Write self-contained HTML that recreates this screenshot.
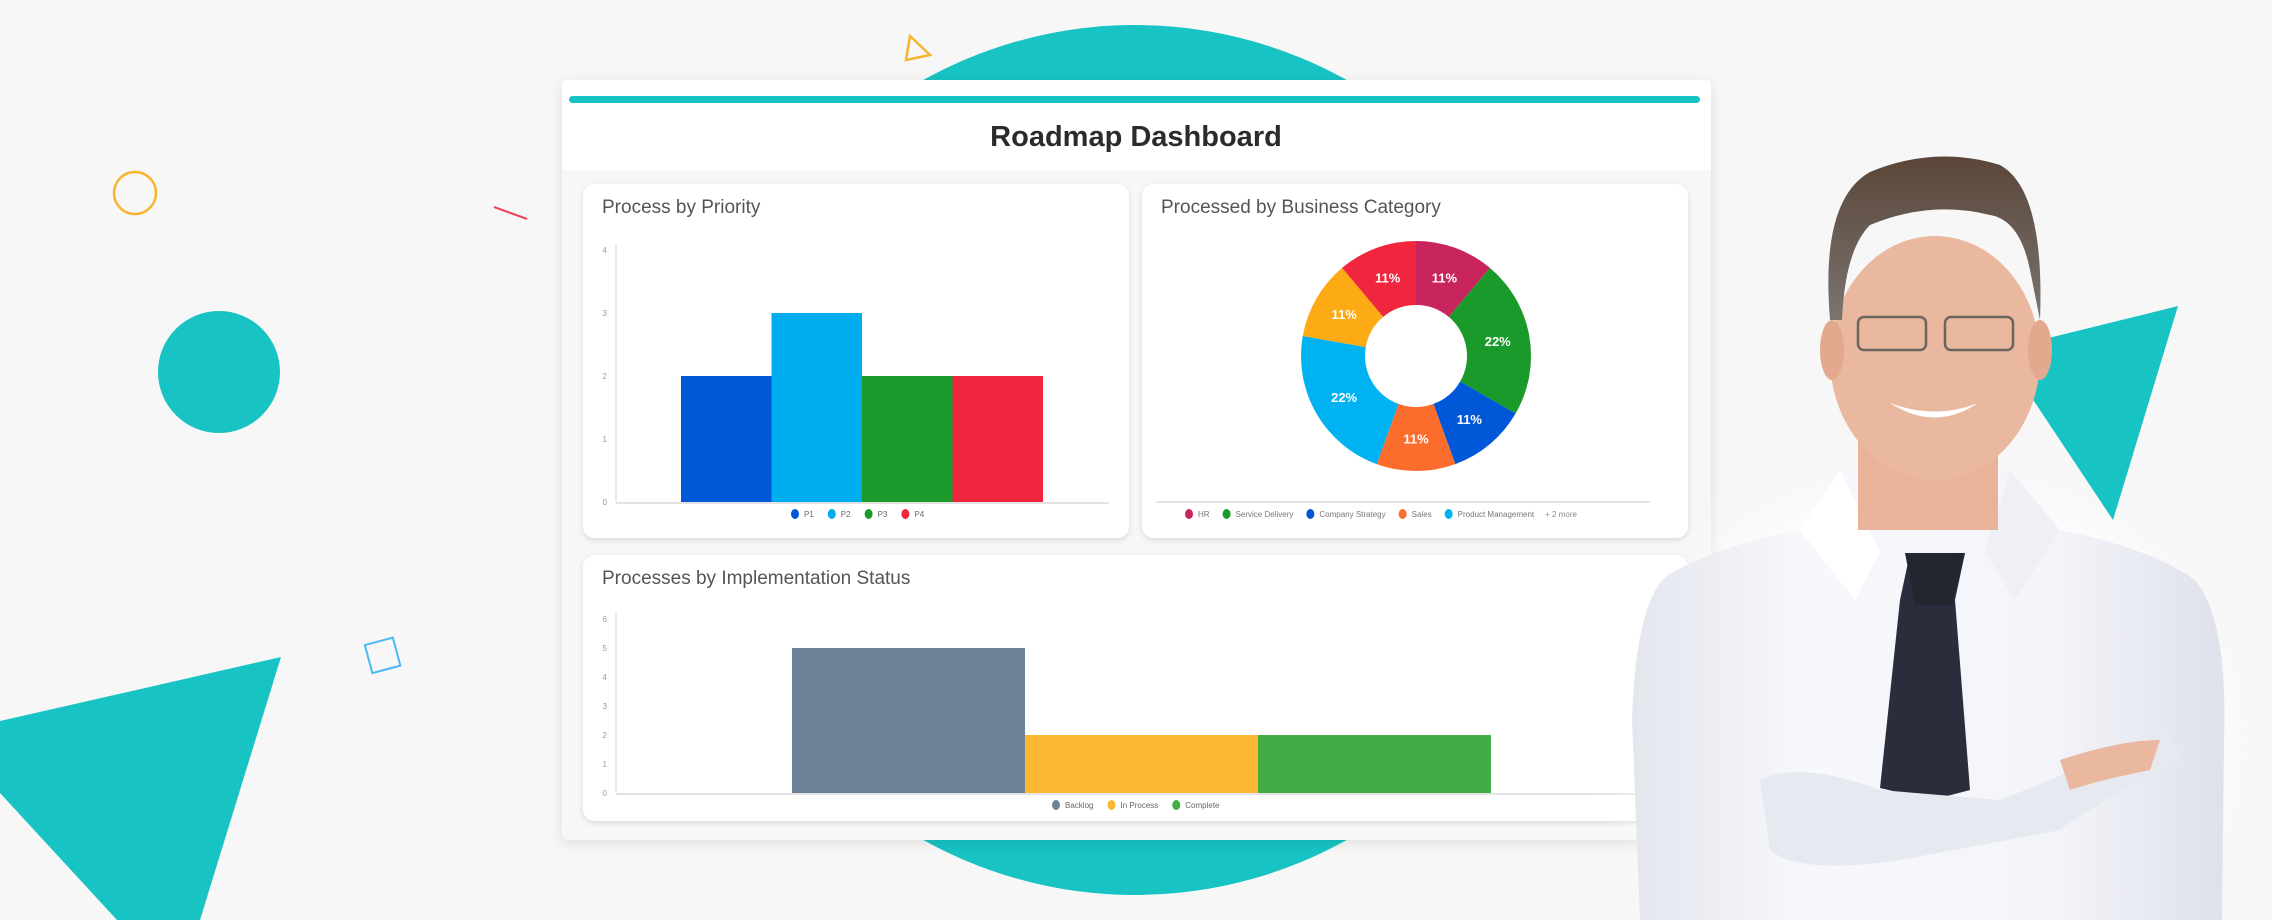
<!DOCTYPE html>
<html><head><meta charset="utf-8"><style>
html,body{margin:0;padding:0;background:#f7f7f7;width:2272px;height:920px;overflow:hidden;}
svg{display:block;font-family:"Liberation Sans",sans-serif;position:absolute;left:0;top:0;}
</style></head><body>
<svg id="root" width="2272" height="920" viewBox="0 0 2272 920">
<defs>
<filter id="sh" x="-10%" y="-10%" width="120%" height="130%"><feDropShadow dx="0" dy="3" stdDeviation="6" flood-color="#000" flood-opacity="0.10"/></filter>
<filter id="sh2" x="-10%" y="-10%" width="120%" height="130%"><feDropShadow dx="0" dy="2" stdDeviation="3" flood-color="#000" flood-opacity="0.12"/></filter>
<filter id="blur" x="-30%" y="-30%" width="160%" height="160%"><feGaussianBlur stdDeviation="25"/></filter>
<linearGradient id="shirt" x1="0" y1="0" x2="1" y2="0"><stop offset="0" stop-color="#e4e6ee"/><stop offset="0.3" stop-color="#f7f8fc"/><stop offset="0.7" stop-color="#f4f5fa"/><stop offset="1" stop-color="#dfe1ea"/></linearGradient>
<linearGradient id="hair" x1="0" y1="0" x2="0" y2="1"><stop offset="0" stop-color="#5a4638"/><stop offset="1" stop-color="#7a7470"/></linearGradient>
</defs>
<rect x="0" y="0" width="2272" height="920" fill="#f7f7f7"/>
<circle cx="1135" cy="460" r="435" fill="#17c3c3"/>
<circle cx="219" cy="372" r="61" fill="#17c3c3"/>
<circle cx="135" cy="193" r="21" fill="none" stroke="#f7b52f" stroke-width="2.5"/>
<line x1="494" y1="207" x2="527" y2="219" stroke="#f0405a" stroke-width="2"/>
<rect x="368" y="641" width="29" height="29" fill="none" stroke="#4cb8f5" stroke-width="2" transform="rotate(-15 382 655)"/>
<polygon points="910,36 930,55 906,60" fill="none" stroke="#f7b52f" stroke-width="2.5"/>
<polygon points="0,721 281,657 200,920 117,920 0,793" fill="#17c3c3"/>

<g>
<rect x="562" y="80" width="1149" height="760" rx="6" fill="#f7f7f7" filter="url(#sh)"/>
<path d="M568,80 H1705 Q1711,80 1711,86 V170 H562 V86 Q562,80 568,80 Z" fill="#fff"/>
<rect x="569" y="96" width="1131" height="7" rx="3.5" fill="#17c3c3"/>
<text x="1136" y="146" text-anchor="middle" font-size="29" font-weight="bold" fill="#2b2b2b">Roadmap Dashboard</text>
</g>
<g>
<rect x="583" y="184" width="546" height="354" rx="12" fill="#fff" filter="url(#sh2)"/>
<text x="602" y="213" font-size="19" fill="#555">Process by Priority</text>
<g id="c1"></g>
</g>
<g>
<rect x="1142" y="184" width="546" height="354" rx="12" fill="#fff" filter="url(#sh2)"/>
<text x="1161" y="213" font-size="19" fill="#555">Processed by Business Category</text>
<g id="c2"></g>
</g>
<g>
<rect x="583" y="555" width="1105" height="266" rx="12" fill="#fff" filter="url(#sh2)"/>
<text x="602" y="584" font-size="19" fill="#555">Processes by Implementation Status</text>
<g id="c3"></g>
</g>

<g>
<ellipse cx="1930" cy="740" rx="300" ry="260" fill="#ffffff" opacity="0.7" filter="url(#blur)"/>
<polygon points="2178,306 2000,350 2113,520" fill="#17c3c3"/>
<path d="M1640,920 L1632,720 Q1636,600 1668,575 Q1720,545 1800,530 L1840,470 L2010,470 L2060,530 Q2150,548 2195,580 Q2228,620 2224,740 L2222,920 Z" fill="url(#shirt)"/>
<path d="M1800,530 L1840,470 L1880,552 L1855,600 Z" fill="#ffffff"/>
<path d="M2060,530 L2010,470 L1985,552 L2015,600 Z" fill="#eef0f6"/>
<rect x="1858" y="430" width="140" height="100" fill="#e8b39a"/>
<path d="M1910,553 L1965,553 L1955,600 L1970,790 L1932,800 L1880,788 L1900,600 Z" fill="#2b2d3d"/>
<path d="M1905,553 L1965,553 L1952,605 L1915,605 Z" fill="#23252f"/>
<ellipse cx="1935" cy="358" rx="105" ry="122" fill="#eab89e"/>
<ellipse cx="1832" cy="350" rx="12" ry="30" fill="#e2a98e"/>
<ellipse cx="2040" cy="350" rx="12" ry="30" fill="#e2a98e"/>
<path d="M1830,320 Q1820,200 1870,172 Q1935,145 2000,165 Q2045,190 2040,320 L2030,270 Q2020,220 1990,215 Q1930,200 1870,225 Q1845,250 1842,320 Z" fill="url(#hair)"/>
<rect x="1858" y="317" width="68" height="33" rx="6" fill="none" stroke="#6c6460" stroke-width="2.5"/>
<rect x="1945" y="317" width="68" height="33" rx="6" fill="none" stroke="#6c6460" stroke-width="2.5"/>
<path d="M1890,403 Q1935,420 1978,403 Q1935,432 1890,403 Z" fill="#ffffff"/>
<path d="M1760,780 Q1800,760 1880,790 L2000,800 Q2100,760 2170,730 L2180,760 Q2100,800 2060,830 L1900,860 Q1800,875 1770,850 Z" fill="#e7e9f0"/>
<path d="M2060,760 Q2120,740 2160,740 L2150,770 Q2100,780 2070,790 Z" fill="#eab89e"/>
</g>
</svg>
<script>
// ---- Chart 1: Process by Priority ----
var c1Categories = ["P1","P2","P3","P4"];
var c1Values = [2,3,2,2];
var c1Colors = ["#0057d8","#00aef0","#1a9a2a","#f0263e"];
var c1Ticks = [0,1,2,3,4];
// ---- Chart 2: Processed by Business Category ----
var c2Categories = ["HR","Service Delivery","Company Strategy","Sales","Product Management","Operations","Finance"];
var c2Values = [1,2,1,1,2,1,1];
var c2Colors = ["#c8245e","#1a9a2a","#0057d8","#fb6d2d","#00b2f2","#fcab14","#f0263e"];
var c2LegendCount = 5;
// ---- Chart 3: Processes by Implementation Status ----
var c3Categories = ["Backlog","In Process","Complete"];
var c3Values = [5,2,2];
var c3Colors = ["#6b8299","#fdb733","#40ad45"];
var c3Ticks = [0,1,2,3,4,5,6];

var NS="http://www.w3.org/2000/svg";
function mk(parent,tag,attrs){var e=document.createElementNS(NS,tag);for(var k in attrs)e.setAttribute(k,attrs[k]);parent.appendChild(e);return e;}
function tw(t){try{return t.getComputedTextLength();}catch(e){return t.textContent.length*4.3;}}

function barChart(gid,cats,vals,cols,ticks,o){
  var g=document.getElementById(gid);
  var maxT=ticks[ticks.length-1];
  function y(v){return o.base-(v/maxT)*(o.base-o.top);}
  function x(i){return o.x0+i*o.bw;}
  ticks.forEach(function(t){
    var tx=mk(g,"text",{x:o.axisX-9,y:y(t)+3,"text-anchor":"end","font-size":"8","fill":"#999"});
    tx.textContent=t;
    
    
  });
  var ax=mk(g,"line",{x1:o.axisX,y1:o.top-6,x2:o.axisX,y2:o.base,stroke:"#e3e3e3","stroke-width":"1.5"});
  
  
  cats.forEach(function(c,i){
    var r=mk(g,"rect",{x:x(i),y:y(vals[i]),width:o.bw,height:o.base-y(vals[i]),fill:cols[i]});
    
    
  });
  var bx=mk(g,"line",{x1:o.axisX,y1:o.base+1,x2:o.axisEnd,y2:o.base+1,stroke:"#e3e3e3","stroke-width":"2"});
  
  
  var lx=o.legX;
  cats.forEach(function(c,i){
    var d=mk(g,"ellipse",{cx:lx,cy:o.legY,rx:4,ry:5,fill:cols[i]});
    
    
    var t=mk(g,"text",{x:lx+9,y:o.legY+3,"font-size":"8","fill":"#666"});
    t.textContent=c;
    
    
    lx+=9+tw(t)+18;
  });
}
barChart("c1",c1Categories,c1Values,c1Colors,c1Ticks,{base:502,top:250,x0:681,bw:90.5,axisX:616,axisEnd:1109,legX:795,legY:514});
barChart("c3",c3Categories,c3Values,c3Colors,c3Ticks,{base:793,top:619,x0:792,bw:233,axisX:616,axisEnd:1680,legX:1056,legY:805});

(function(){
  var g=document.getElementById("c2");
  var cx=1416,cy=356,R=115,r=51;
  var total=c2Values.reduce(function(a,b){return a+b;},0);
  var a0=-Math.PI/2;
  c2Values.forEach(function(v,i){
    var a1=a0+v/total*2*Math.PI;
    var lg=(a1-a0)>Math.PI?1:0;
    var p="M"+(cx+R*Math.cos(a0))+","+(cy+R*Math.sin(a0))+" A"+R+","+R+" 0 "+lg+" 1 "+(cx+R*Math.cos(a1))+","+(cy+R*Math.sin(a1))+
      " L"+(cx+r*Math.cos(a1))+","+(cy+r*Math.sin(a1))+" A"+r+","+r+" 0 "+lg+" 0 "+(cx+r*Math.cos(a0))+","+(cy+r*Math.sin(a0))+" Z";
    var s=mk(g,"path",{d:p,fill:c2Colors[i]});
    
    
    var am=(a0+a1)/2, lr=(R+r)/2;
    var t=mk(g,"text",{x:cx+lr*Math.cos(am),y:cy+lr*Math.sin(am)+4.5,"text-anchor":"middle","font-size":"13","font-weight":"bold","fill":"#fff"});
    t.textContent=Math.round(v/total*100)+"%";
    
    
    a0=a1;
  });
  var ln=mk(g,"line",{x1:1156,y1:502,x2:1650,y2:502,stroke:"#e3e3e3","stroke-width":"2"});
  
  
  var lx=1189;
  for(var i=0;i<c2LegendCount;i++){
    var d=mk(g,"ellipse",{cx:lx,cy:514,rx:4,ry:5,fill:c2Colors[i]});
    
    
    var t=mk(g,"text",{x:lx+9,y:517,"font-size":"8","fill":"#777"});
    t.textContent=c2Categories[i];
    
    
    lx+=9+tw(t)+17;
  }
  var more=mk(g,"text",{x:lx-6,y:517,"font-size":"8","fill":"#888"});
  more.textContent="+ "+(c2Categories.length-c2LegendCount)+" more";
  
  
})();
</script>
</body></html>
